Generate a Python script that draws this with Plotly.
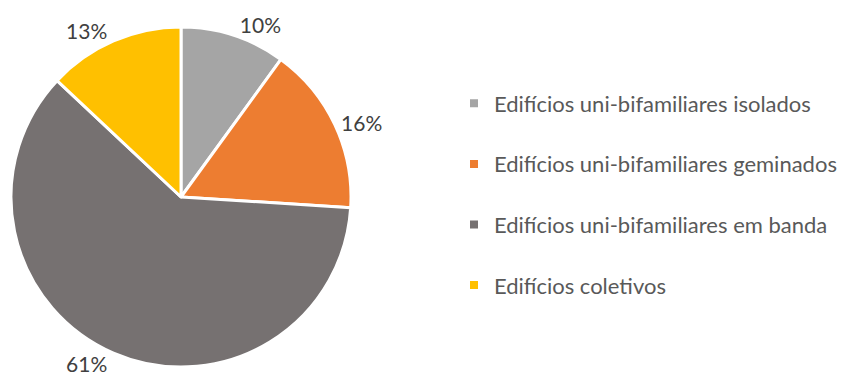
import plotly.graph_objects as go

# Housing stock by building type (share of total, %)
categories = [
    "Edifícios uni-bifamiliares isolados",
    "Edifícios uni-bifamiliares geminados",
    "Edifícios uni-bifamiliares em banda",
    "Edifícios coletivos",
]
shares = [10, 16, 61, 13]
colors = ["#A5A5A5", "#ED7D31", "#767171", "#FFC000"]

W, H = 845, 389
FONT = "Lato, Carlito, Calibri, sans-serif"

fig = go.Figure()

fig.add_trace(go.Pie(
    labels=categories,
    values=shares,
    sort=False,
    direction="clockwise",
    rotation=0,
    marker=dict(colors=colors, line=dict(color="white", width=3)),
    texttemplate="%{value}%",
    textposition="outside",
    textfont=dict(family=FONT, size=21, color="#404040"),
    showlegend=False,
    hoverinfo="label+percent",
    domain=dict(x=[11 / W, 351 / W], y=[1 - 367 / H, 1 - 27 / H]),
))

# Legend entries (square swatches), one group each for wider spacing
for name, col in zip(categories, colors):
    fig.add_trace(go.Scatter(
        x=[None], y=[None], mode="markers", name=name, legendgroup=name,
        marker=dict(symbol="square", size=8, color=col),
        hoverinfo="skip",
    ))

fig.update_layout(
    width=W, height=H,
    margin=dict(l=0, r=0, t=0, b=0),
    paper_bgcolor="white", plot_bgcolor="white",
    xaxis=dict(visible=False), yaxis=dict(visible=False),
    legend=dict(
        x=454 / W, y=0.5, xanchor="left", yanchor="middle",
        font=dict(family=FONT, size=22, color="#595959"),
        tracegroupgap=29,
        bgcolor="rgba(0,0,0,0)",
    ),
)

fig.write_html("out.html")
